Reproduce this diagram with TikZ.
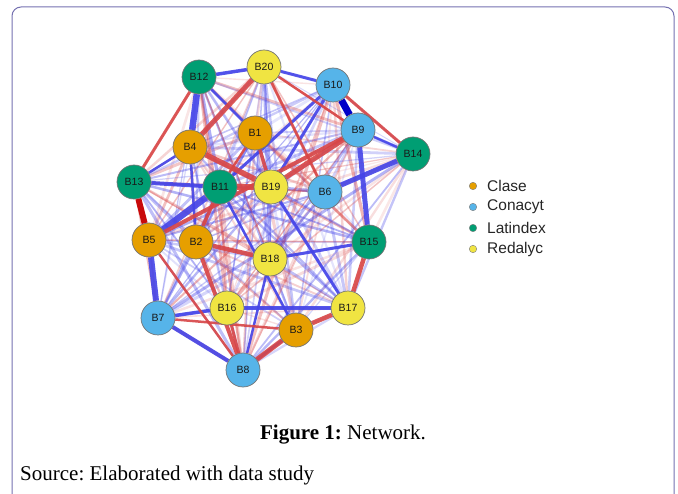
\documentclass[tikz,border=0pt]{standalone}
\usepackage{fontspec}
\setmainfont{Liberation Serif}
\setsansfont{Liberation Sans}
\usepackage{xcolor}
\usepackage{tikz}
\usetikzlibrary{backgrounds}
\definecolor{cclase}{HTML}{E69F00}
\definecolor{cconacyt}{HTML}{56B4E9}
\definecolor{clatindex}{HTML}{009E73}
\definecolor{credalyc}{HTML}{F0E442}
\definecolor{cpos}{HTML}{4444E8}
\definecolor{cpos2}{HTML}{0000C8}
\definecolor{cneg}{HTML}{D84646}
\definecolor{cneg2}{HTML}{C80A0A}
\definecolor{cframe}{HTML}{7470B0}
\frenchspacing

\tikzset{
  bnode/.style={circle, draw=black!55, line width=0.7pt, minimum size=34pt, inner sep=0pt,
    font=\sffamily\fontsize{10.5}{10.5}\selectfont, text=black!90},
  clase/.style={bnode, fill=cclase},
  conacyt/.style={bnode, fill=cconacyt},
  latindex/.style={bnode, fill=clatindex},
  redalyc/.style={bnode, fill=credalyc},
  legdot/.style={circle, draw=black!50, line width=0.4pt, minimum size=7.5pt, inner sep=0pt},
  legtext/.style={anchor=west, font=\sffamily\fontsize{15.5}{15.5}\selectfont, text=black!85, inner sep=0pt}
}

\begin{document}
\begin{tikzpicture}[x=1pt, y=-1pt]
			\useasboundingbox (0,0) rectangle (678,494);
			\draw[cframe, line width=1pt, rounded corners=9pt] (12,510) -- (12,7) -- (674,7) -- (674,510);

			% journals
			\node[clase] (B1) at (255,133) {B1};
			\node[clase] (B2) at (196,242) {B2};
			\node[clase] (B3) at (296,330) {B3};
			\node[clase] (B4) at (190,147) {B4};
			\node[clase] (B5) at (149,240) {B5};
			\node[conacyt] (B6) at (325,192) {B6};
			\node[conacyt] (B7) at (158,318) {B7};
			\node[conacyt] (B8) at (243,370) {B8};
			\node[conacyt] (B9) at (358,130) {B9};
			\node[conacyt] (B10) at (333,85) {B10};
			\node[latindex] (B11) at (220,187) {B11};
			\node[latindex] (B12) at (199,77) {B12};
			\node[latindex] (B13) at (134,182) {B13};
			\node[latindex] (B14) at (413,154) {B14};
			\node[latindex] (B15) at (369,242) {B15};
			\node[redalyc] (B16) at (227,308) {B16};
			\node[redalyc] (B17) at (348,308) {B17};
			\node[redalyc] (B18) at (270,259) {B18};
			\node[redalyc] (B19) at (271,187) {B19};
			\node[redalyc] (B20) at (264,67) {B20};

			\begin{pgfonlayer}{background}
				% weak ties
				\pgfmathsetseed{4217}
				\foreach \i in {1,...,19}{
					\pgfmathtruncatemacro\k{\i+1}
					\foreach \j in {\k,...,20}{
						\pgfmathsetmacro\w{1.0+2.2*rnd}
						\pgfmathsetmacro\o{0.12+0.33*rnd}
						\pgfmathtruncatemacro\s{rnd<0.45}
						\ifnum\s=1
							\draw[cneg, line width=\w pt, opacity=\o] (B\i) -- (B\j);
						\else
							\draw[cpos, line width=\w pt, opacity=\o] (B\i) -- (B\j);
						\fi
					}
				}
				% strong positive ties
				\foreach \a/\b/\w in {12/4/6.5, 5/11/6.5, 5/7/6, 9/15/5, 6/14/5, 16/17/4.5, 13/11/4,
					7/8/4, 7/16/3.5, 12/20/3.5, 10/11/3, 10/19/3, 20/10/3, 8/3/3, 19/17/3,
					15/18/3, 13/4/2.5, 11/3/2.5, 12/1/2.5, 9/14/2.2, 2/4/2.5, 18/8/2.5}
					\draw[cpos, line width=\w pt, opacity=0.9] (B\a) -- (B\b);
				\draw[cpos2, line width=7pt] (B10) -- (B9);
				% strong negative ties
				\foreach \a/\b/\w in {4/19/5.5, 11/19/6, 20/4/5, 9/19/5, 9/5/4, 1/19/3.5, 2/18/4.5,
					2/8/4, 11/2/3.5, 3/8/5, 3/17/4.5, 15/17/4.5, 12/13/3, 10/14/3, 20/6/2.5,
					7/3/2.5, 16/8/3, 1/11/2.5, 5/8/2.5, 20/9/2.5}
					\draw[cneg, line width=\w pt, opacity=0.9] (B\a) -- (B\b);
				\draw[cneg2, line width=6pt] (B13) -- (B5);
			\end{pgfonlayer}

			% legend
			\node[legdot, fill=cclase] (l1) at (473,186) {};
			\node[legdot, fill=cconacyt] (l2) at (473,207) {};
			\node[legdot, fill=clatindex] (l3) at (473,228) {};
			\node[legdot, fill=credalyc] (l4) at (473,249) {};
			\node[legtext] at (487,186) {Clase};
			\node[legtext] at (487,207) {Conacyt};
			\node[legtext] at (487,228) {Latindex};
			\node[legtext] at (487,249) {Redalyc};

			\node[font=\fontsize{21}{21}\selectfont, anchor=base] (cap) at (343,439) {\textbf{Figure 1:} Network.};
			\node[font=\fontsize{21}{21}\selectfont, anchor=base west, inner sep=0pt] (src) at (20,480) {Source: Elaborated with data study};
		\end{tikzpicture}
\end{document}
